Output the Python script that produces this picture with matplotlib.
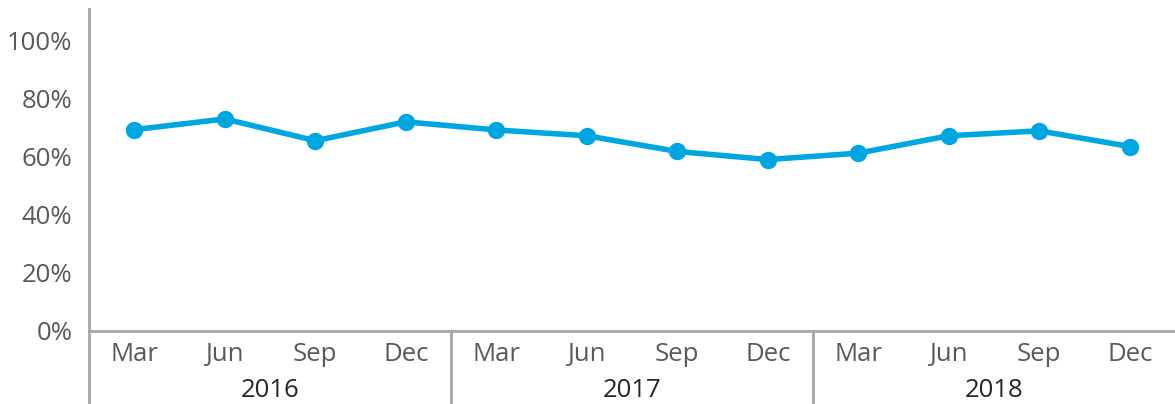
import matplotlib
matplotlib.use("Agg")
import matplotlib.pyplot as plt
import matplotlib.transforms as mtransforms

months = ["Mar", "Jun", "Sep", "Dec"] * 3
years = ["2016", "2017", "2018"]
values = [69.4, 73.1, 65.6, 72.1, 69.3, 67.3, 61.9, 59.1, 61.3, 67.3, 69.0, 63.6]
yticks = [0, 20, 40, 60, 80, 100]

plt.rcParams['font.family'] = ['Open Sans', 'DejaVu Sans']

W, H = 1175, 404
fig = plt.figure(figsize=(W / 100, H / 100), dpi=100)
ax = fig.add_axes([89 / W, (H - 331) / H, 1086 / W, 322 / H])

x = list(range(len(values)))
ax.plot(x, values, color='#00A6E0', lw=4, marker='o', ms=11.5, clip_on=False, zorder=3)

ax.set_xlim(-0.5, len(values) - 0.5)
ax.set_ylim(0, 111)
ax.set_yticks(yticks)
ax.set_yticklabels([f"{v}%" for v in yticks])
ax.set_xticks(x)
ax.set_xticklabels(months)
ax.tick_params(axis='y', length=0, pad=12, labelsize=18.5, labelcolor='#595959')
ax.tick_params(axis='x', length=0, pad=8, labelsize=18.5, labelcolor='#595959')

for s in ['top', 'right']:
    ax.spines[s].set_visible(False)
for s in ['left', 'bottom']:
    ax.spines[s].set_color('#A6A6A6')
    ax.spines[s].set_linewidth(2)

# group separators and year labels under the month labels
trans = mtransforms.blended_transform_factory(ax.transData, ax.transAxes)
low = -(H - 331) / 322
for i in range(len(years)):
    ax.plot([i * 4 - 0.5, i * 4 - 0.5], [0, low], color='#A6A6A6', lw=2,
            transform=trans, clip_on=False)
    ax.text(i * 4 + 1.5, -0.185, years[i], transform=trans, ha='center', va='center',
            fontsize=18.5, color='#262626')

fig.savefig("out.png", dpi=100)
